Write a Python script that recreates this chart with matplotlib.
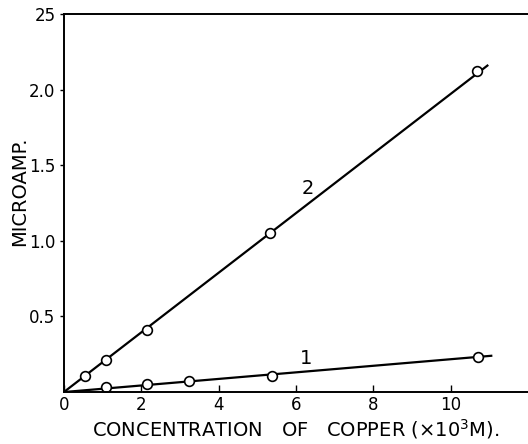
import numpy as np
import matplotlib.pyplot as plt

# curve 2
x2 = [0.55, 1.08, 2.15, 5.32, 10.68]
y2 = [0.105, 0.21, 0.41, 1.055, 2.125]
line2_x = [0, 10.95]
line2_y = [0, 2.16]

# curve 1
x1 = [1.08, 2.15, 3.24, 5.38, 10.72]
y1 = [0.035, 0.053, 0.071, 0.104, 0.234]
line1_x = [0, 11.05]
line1_y = [0, 0.24]

yticks = [0.5, 1.0, 1.5, 2.0, 2.5]
ytick_labels = ['0.5', '1.0', '1.5', '2.0', '25']
xticks = [0, 2, 4, 6, 8, 10]

plt.rcParams.update({'font.family': 'DejaVu Sans'})

fig = plt.figure(figsize=(5.28, 4.44), dpi=100)
ax = fig.add_axes([0.121, 0.117, 0.879, 0.851])

lw = 1.6
ax.plot(line2_x, line2_y, color='black', linewidth=lw)
ax.plot(line1_x, line1_y, color='black', linewidth=lw)
ax.plot(x2, y2, 'o', ms=7, mfc='white', mec='black', mew=1.2)
ax.plot(x1, y1, 'o', ms=7, mfc='white', mec='black', mew=1.2)

ax.text(6.3, 1.35, '2', fontsize=14, ha='center', va='center')
ax.text(6.25, 0.22, '1', fontsize=14, ha='center', va='center')

ax.set_xlim(0, 12)
ax.set_ylim(0, 2.5)
ax.set_xticks(xticks)
ax.set_yticks(yticks)
ax.set_yticklabels(ytick_labels)
ax.tick_params(axis='x', direction='in', length=5, width=1, labelsize=12, pad=3)
ax.tick_params(axis='y', direction='out', length=3, width=1, labelsize=12, pad=3)
ax.spines['right'].set_visible(False)
for s in ['left', 'top', 'bottom']:
    ax.spines[s].set_linewidth(1.4)

fig.text(0.56, 0.033, 'CONCENTRATION   OF   COPPER (×10$^3$M).', fontsize=14,
         ha='center', va='center')
fig.text(0.038, 0.57, 'MICROAMP.', fontsize=14, rotation=90,
         ha='center', va='center')

plt.savefig('out.png', dpi=100)
